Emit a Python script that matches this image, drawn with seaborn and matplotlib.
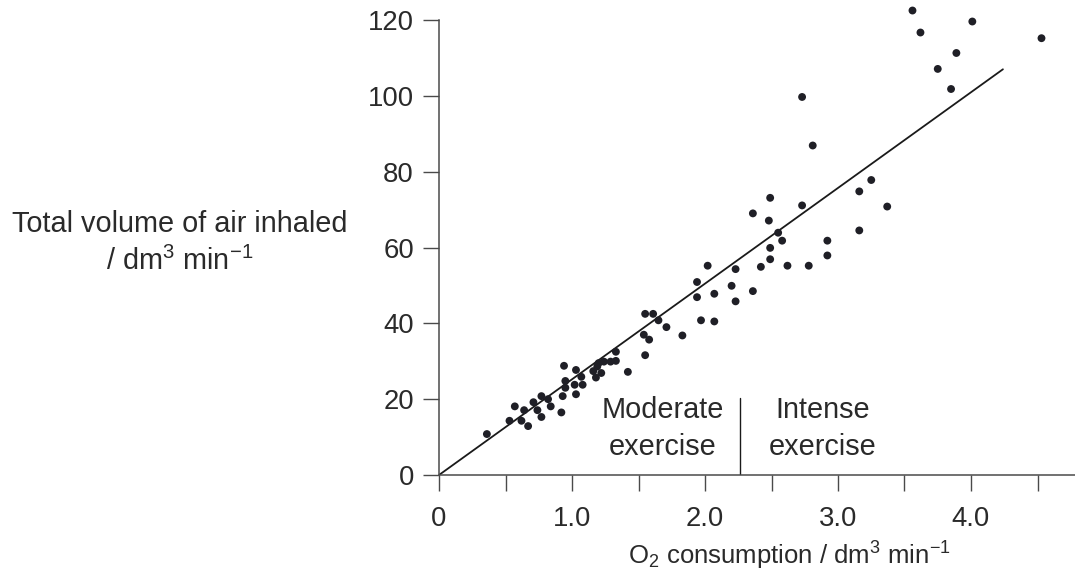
import matplotlib
matplotlib.use("Agg")
import matplotlib.pyplot as plt
import seaborn as sns
import pandas as pd

# ---- data ----
o2 = [0.36, 0.53, 0.57, 0.62, 0.64, 0.67, 0.71, 0.74, 0.77, 0.77,
      0.82, 0.84, 0.92, 0.93, 0.94, 0.95, 0.95, 1.02, 1.03, 1.03,
      1.07, 1.08, 1.16, 1.18, 1.19, 1.20, 1.22, 1.24, 1.29, 1.33,
      1.33, 1.42, 1.54, 1.55, 1.55, 1.58, 1.61, 1.65, 1.71, 1.83,
      1.94, 1.94, 2.02, 1.97, 2.07, 2.07, 2.20, 2.23, 2.23, 2.36,
      2.36, 2.42, 2.49, 2.48, 2.49, 2.49, 2.55, 2.58, 2.62, 2.73,
      2.78, 2.92, 2.92, 3.16, 3.16, 2.73, 2.81, 3.56, 3.62, 4.01,
      4.53, 3.89, 3.75, 3.85, 3.25, 3.37]
air = [10.8, 14.3, 18.1, 14.3, 17.1, 12.9, 19.2, 17.1, 20.8, 15.3,
       20.0, 18.1, 16.5, 20.8, 28.8, 23.0, 24.8, 23.8, 27.7, 21.3,
       25.9, 23.8, 27.4, 25.7, 28.6, 29.5, 26.9, 29.9, 29.9, 30.1,
       32.5, 27.2, 37.0, 42.5, 31.6, 35.7, 42.5, 40.8, 39.0, 36.8,
       50.9, 46.9, 55.2, 40.8, 40.5, 47.8, 49.9, 54.3, 45.8, 48.5,
       69.0, 54.9, 73.1, 67.1, 59.9, 56.9, 63.9, 61.8, 55.2, 71.1,
       55.2, 61.8, 57.9, 74.8, 64.5, 99.7, 86.9, 122.5, 116.7, 119.6,
       115.2, 111.3, 107.1, 101.8, 77.8, 70.8]

fit_x = [0.0, 4.24]
fit_y = [0.0, 107.0]

divider_x = [2.26, 2.26]
divider_y = [0.0, 20.3]

x_ticks = [0, 0.5, 1.0, 1.5, 2.0, 2.5, 3.0, 3.5, 4.0, 4.5]
x_ticklabels = ["0", "", "1.0", "", "2.0", "", "3.0", "", "4.0", ""]
y_ticks = [0, 20, 40, 60, 80, 100, 120]
y_ticklabels = ["0", "20", "40", "60", "80", "100", "120"]

region_labels = ["Moderate\nexercise", "Intense\nexercise"]
region_x = [1.68, 2.885]
region_y = [12.3, 12.3]

xlabel = r"O$_\mathregular{2}$ consumption / dm$^\mathregular{3}$ min$^\mathregular{-1}$"
ylabel = "Total volume of air inhaled\n/ dm$^\\mathregular{3}$ min$^\\mathregular{-1}$"

# ---- styling ----
sns.set_theme(style="white")
plt.rcParams["font.family"] = ["Liberation Sans", "DejaVu Sans"]
plt.rcParams["mathtext.fontset"] = "custom"
plt.rcParams["mathtext.rm"] = "Liberation Sans"
plt.rcParams["mathtext.it"] = "Liberation Sans:italic"
plt.rcParams["mathtext.bf"] = "Liberation Sans:bold"

TXT = "#2a2a2a"
AX = "#4a4a4a"
FS_TICK = 19.8
FS_TEXT = 20.8
FS_XLAB = 18.5

df = pd.DataFrame({"o2": o2, "air": air})
fit = pd.DataFrame({"x": fit_x, "y": fit_y})
div = pd.DataFrame({"x": divider_x, "y": divider_y})

fig = plt.figure(figsize=(10.75, 5.76), dpi=100)
ax = fig.add_axes([439 / 1075, 1 - 475 / 576, (4.8 * 133) / 1075, 455 / 576])

sns.lineplot(data=fit, x="x", y="y", ax=ax, color="#1a1a1a", linewidth=1.3,
             estimator=None, sort=False)
sns.lineplot(data=div, x="x", y="y", ax=ax, color="#1a1a1a", linewidth=1.0,
             estimator=None, sort=False)
sns.scatterplot(data=df, x="o2", y="air", ax=ax, color="#1f1f26", s=32,
                edgecolor="none", linewidth=0, clip_on=False, zorder=3)

ax.set_xlim(0, 4.8)
ax.set_ylim(0, 120)
ax.set_xticks(x_ticks)
ax.set_xticklabels(x_ticklabels)
ax.set_yticks(y_ticks)
ax.set_yticklabels(y_ticklabels)
ax.set_xlabel("")
ax.set_ylabel("")

for side in ["top", "right"]:
    ax.spines[side].set_visible(False)
for side in ["left", "bottom"]:
    ax.spines[side].set_color(AX)
    ax.spines[side].set_linewidth(1.1)

ax.tick_params(axis="x", direction="out", length=11.5, width=1.0, color=AX,
               labelsize=FS_TICK, labelcolor=TXT, pad=10.5, bottom=True)
ax.tick_params(axis="y", direction="out", length=11.5, width=1.0, color=AX,
               labelsize=FS_TICK, labelcolor=TXT, pad=6.5, left=True)

for lab, xx, yy in zip(region_labels, region_x, region_y):
    ax.text(xx, yy, lab, ha="center", va="center", fontsize=FS_TEXT,
            color=TXT, linespacing=1.4)

fig.text(180 / 1075, 1 - 243 / 576, ylabel, ha="center", va="center",
         multialignment="center", fontsize=FS_TEXT, color=TXT,
         linespacing=1.4)
fig.text(789 / 1075, 1 - 565 / 576, xlabel, ha="center", va="baseline",
         fontsize=FS_XLAB, color=TXT)

fig.savefig("out.png", dpi=100)
